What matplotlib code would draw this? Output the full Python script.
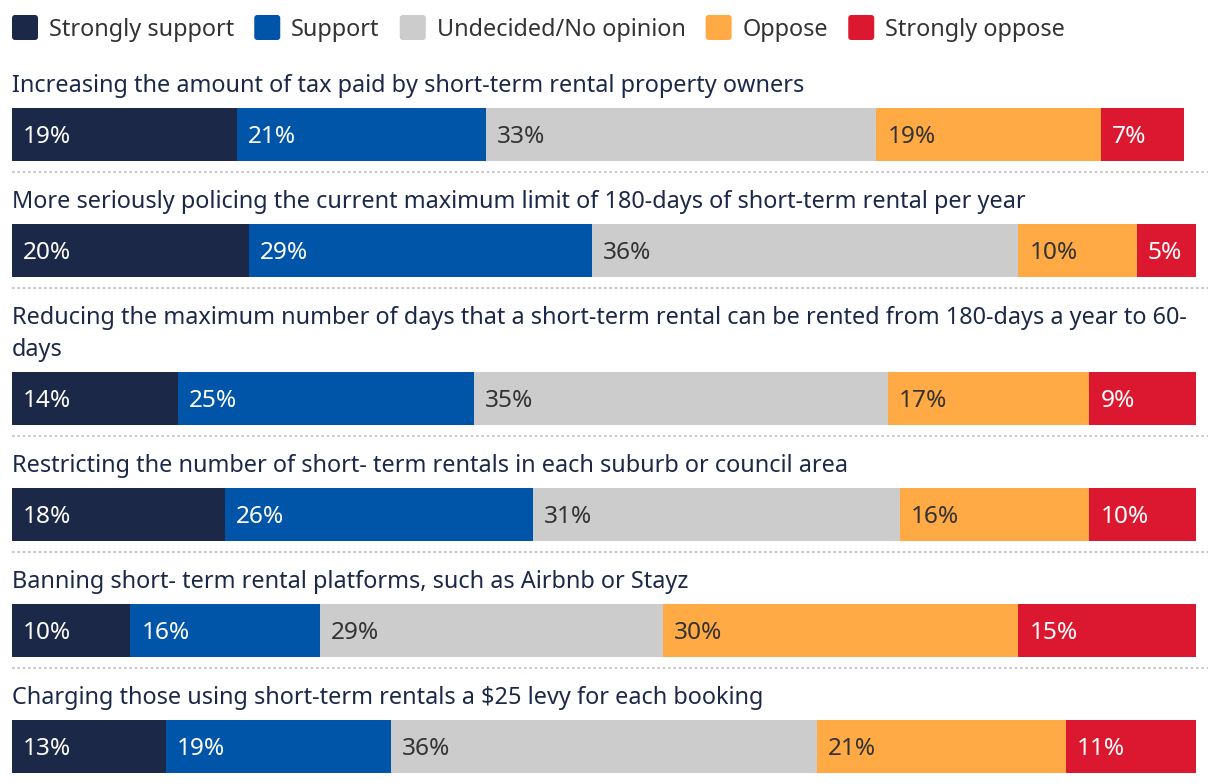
import matplotlib
matplotlib.use("Agg")
import matplotlib.pyplot as plt
import matplotlib.transforms as mtransforms
from matplotlib.patches import FancyBboxPatch

# 数据
questions = [
    "Increasing the amount of tax paid by short-term rental property owners",
    "More seriously policing the current maximum limit of 180-days of short-term rental per year",
    "Reducing the maximum number of days that a short-term rental can be rented from 180-days a year to 60-\ndays",
    "Restricting the number of short- term rentals in each suburb or council area",
    "Banning short- term rental platforms, such as Airbnb or Stayz",
    "Charging those using short-term rentals a $25 levy for each booking",
]
categories = ["Strongly support", "Support", "Undecided/No opinion", "Oppose", "Strongly oppose"]
strongly_support = [19, 20, 14, 18, 10, 13]
support = [21, 29, 25, 26, 16, 19]
undecided = [33, 36, 35, 31, 29, 36]
oppose = [19, 10, 17, 16, 30, 21]
strongly_oppose = [7, 5, 9, 10, 15, 11]
series = [strongly_support, support, undecided, oppose, strongly_oppose]

colors = ["#1b2847", "#0055a8", "#cccccc", "#ffaa44", "#dc1830"]
text_colors = ["white", "white", "#333333", "#333333", "white"]
label_color = "#1b2847"

W, H = 1220, 784
plt.rcParams["font.family"] = ["Noto Sans", "DejaVu Sans"]
fs = 16.9
fs_pct = 17.6

fig = plt.figure(figsize=(W / 100, H / 100), dpi=100)
# 像素坐标（y 从上往下）
px = mtransforms.Affine2D().scale(1 / W, -1 / H).translate(0, 1) + fig.transFigure

ax = fig.add_axes([12 / W, 0, 1184 / W, 1])
ax.set_xlim(0, 100)
ax.set_ylim(H, 0)
ax.axis("off")

# 图例
x = 12
for cat, c in zip(categories, colors):
    fig.patches.append(FancyBboxPatch((x, 15), 26, 25, boxstyle="round,pad=0,rounding_size=3",
                                      facecolor=c, edgecolor="none", transform=px))
    t = fig.text(x + 37, 36, cat, transform=px, fontsize=fs, color="#333333", va="baseline")
    fig.canvas.draw()
    bb = t.get_window_extent()
    x = x + 37 + bb.width + 20

# 条形
y0 = 83
for i, q in enumerate(questions):
    lines = q.split("\n")
    for j, line in enumerate(lines):
        ax.text(0, y0 + 32 * j + 9, line, fontsize=fs, color=label_color, va="baseline")
    top = y0 + 32 * (len(lines) - 1) + 25
    center = top + 26.5
    left = 0
    for k, s in enumerate(series):
        v = s[i]
        ax.barh(center, v, left=left, height=53, color=colors[k], edgecolor="none")
        ax.text(left + 0.93, center + 8.5, f"{v}%", fontsize=fs_pct, color=text_colors[k], va="baseline")
        left += v
    sep = top + 53 + 11
    if i < len(questions) - 1:
        ax.plot([0, 101], [sep, sep], color="#cccccc", linewidth=1.6,
                linestyle=(0, (1.2, 1.2)), clip_on=False)
    y0 = sep + 27

fig.savefig("out.png", dpi=100)
